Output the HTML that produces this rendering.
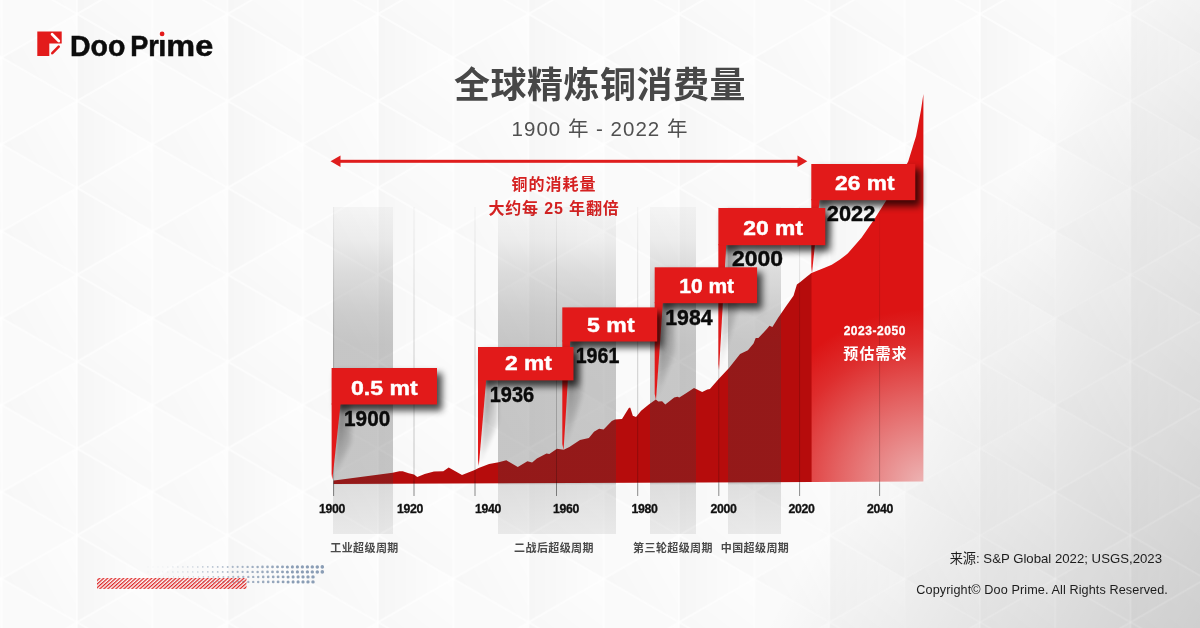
<!DOCTYPE html>
<html lang="zh-CN"><head><meta charset="utf-8"><title>全球精炼铜消费量</title>
<style>
html,body{margin:0;padding:0;background:#fff;}
body{width:1200px;height:628px;overflow:hidden;font-family:"Liberation Sans", "Noto Sans CJK SC", sans-serif;}
svg{display:block;font-family:"Liberation Sans", "Noto Sans CJK SC", sans-serif;opacity:0.999;}
</style></head><body>
<svg width="1200" height="628" viewBox="0 0 1200 628">
<defs>
<linearGradient id="bgD" gradientUnits="userSpaceOnUse" x1="1000" y1="200" x2="1334" y2="383.7">
 <stop offset="0" stop-color="#000" stop-opacity="0"/><stop offset="1" stop-color="#000" stop-opacity="0.175"/>
</linearGradient>
<linearGradient id="band" x1="0" y1="0" x2="0" y2="1">
 <stop offset="0" stop-color="#3c3c3c" stop-opacity="0.035"/><stop offset="0.1" stop-color="#3c3c3c" stop-opacity="0.075"/><stop offset="0.2" stop-color="#3c3c3c" stop-opacity="0.16"/><stop offset="0.327" stop-color="#3c3c3c" stop-opacity="0.24"/><stop offset="0.42" stop-color="#3c3c3c" stop-opacity="0.275"/><stop offset="0.845" stop-color="#3c3c3c" stop-opacity="0.275"/><stop offset="0.85" stop-color="#3c3c3c" stop-opacity="0.15"/><stop offset="1" stop-color="#3c3c3c" stop-opacity="0.09"/>
</linearGradient>
<radialGradient id="fore" gradientUnits="userSpaceOnUse" cx="925" cy="485" r="176">
 <stop offset="0" stop-color="#edb6b6"/><stop offset="0.5" stop-color="#e46262"/><stop offset="0.8" stop-color="#de2d2d"/><stop offset="1" stop-color="#dc1414"/>
</radialGradient>
<linearGradient id="gl" x1="0" y1="0" x2="0" y2="1">
 <stop offset="0" stop-color="#000" stop-opacity="0.04"/><stop offset="0.5" stop-color="#000" stop-opacity="0.17"/><stop offset="0.945" stop-color="#000" stop-opacity="0.22"/><stop offset="0.96" stop-color="#000" stop-opacity="0.45"/><stop offset="1" stop-color="#000" stop-opacity="0.45"/>
</linearGradient>
<linearGradient id="vfadeg" x1="0" y1="0" x2="0" y2="1">
 <stop offset="0" stop-color="#fff"/><stop offset="0.35" stop-color="#fff" stop-opacity="0.75"/><stop offset="0.8" stop-color="#fff" stop-opacity="0.12"/><stop offset="1" stop-color="#fff" stop-opacity="0"/>
</linearGradient>
<mask id="vfade" maskContentUnits="objectBoundingBox" x="-0.5" y="-0.1" width="2" height="1.2"><rect x="-0.5" y="-0.1" width="2" height="1.2" fill="url(#vfadeg)"/></mask>
<linearGradient id="psh" x1="0" y1="0" x2="1" y2="0">
 <stop offset="0" stop-color="#000" stop-opacity="0.6"/><stop offset="1" stop-color="#000" stop-opacity="0.18"/>
</linearGradient>
<filter id="blur2" x="-50%" y="-20%" width="200%" height="140%"><feGaussianBlur stdDeviation="2"/></filter>
<filter id="blur5" x="-20%" y="-50%" width="140%" height="200%"><feGaussianBlur stdDeviation="3.6"/></filter>
<pattern id="hatch" width="2.68" height="2.68" patternUnits="userSpaceOnUse" patternTransform="rotate(-42)">
 <rect width="2.68" height="1.2" fill="#de1f1f"/>
</pattern>
<linearGradient id="tA" gradientUnits="userSpaceOnUse" x1="0" y1="0" x2="75.25" y2="0"><stop offset="0" stop-color="#000" stop-opacity="0.028"/><stop offset="1" stop-color="#000" stop-opacity="0"/></linearGradient>
<linearGradient id="tB" gradientUnits="userSpaceOnUse" x1="75.25" y1="-43.45" x2="25.08" y2="21.73"><stop offset="0" stop-color="#000" stop-opacity="0"/><stop offset="1" stop-color="#000" stop-opacity="0.021"/></linearGradient>
<linearGradient id="tB2" gradientUnits="userSpaceOnUse" x1="75.25" y1="43.45" x2="25.08" y2="108.62"><stop offset="0" stop-color="#000" stop-opacity="0"/><stop offset="1" stop-color="#000" stop-opacity="0.021"/></linearGradient>
<linearGradient id="tC" gradientUnits="userSpaceOnUse" x1="150.5" y1="0" x2="75.25" y2="43.45"><stop offset="0" stop-color="#000" stop-opacity="0"/><stop offset="1" stop-color="#000" stop-opacity="0.024"/></linearGradient>
<pattern id="tri" patternUnits="userSpaceOnUse" x="77" y="14" width="150.5" height="86.9">
 <polygon points="0,0 0,86.9 75.25,43.45" fill="url(#tA)"/>
 <polygon points="0,0 75.25,0 75.25,43.45" fill="url(#tB)"/>
 <polygon points="0,86.9 75.25,43.45 75.25,86.9" fill="url(#tB2)"/>
 <polygon points="75.25,43.45 150.5,0 150.5,86.9" fill="url(#tC)"/>
 <polygon points="75.25,0 150.5,0 75.25,43.45" fill="#000" fill-opacity="0.011"/>
 <polygon points="75.25,43.45 150.5,86.9 75.25,86.9" fill="#000" fill-opacity="0.011"/>
 
</pattern>
<pattern id="triA" patternUnits="userSpaceOnUse" x="77" y="14" width="150.5" height="86.9">
 <g stroke="#fff" stroke-opacity="0.6" stroke-width="2">
  <line x1="0" y1="0" x2="0" y2="86.9"/><line x1="150.5" y1="0" x2="150.5" y2="86.9"/><line x1="75.25" y1="0" x2="75.25" y2="86.9"/>
  <line x1="0" y1="0" x2="150.5" y2="86.9"/><line x1="0" y1="86.9" x2="150.5" y2="0"/>
 </g>
</pattern>
<pattern id="triB" patternUnits="userSpaceOnUse" x="77" y="14" width="150.5" height="86.9">
 <g stroke="#fff" stroke-opacity="0.16" stroke-width="1.8">
  <line x1="0" y1="0" x2="0" y2="86.9"/><line x1="150.5" y1="0" x2="150.5" y2="86.9"/><line x1="75.25" y1="0" x2="75.25" y2="86.9"/>
  <line x1="0" y1="0" x2="150.5" y2="86.9"/><line x1="0" y1="86.9" x2="150.5" y2="0"/>
 </g>
</pattern>
<linearGradient id="mLg" gradientUnits="userSpaceOnUse" x1="940" y1="167" x2="1334" y2="383.7"><stop offset="0" stop-color="#fff"/><stop offset="0.45" stop-color="#000"/></linearGradient>
<linearGradient id="mRg" gradientUnits="userSpaceOnUse" x1="940" y1="167" x2="1334" y2="383.7"><stop offset="0.1" stop-color="#000"/><stop offset="0.55" stop-color="#fff"/></linearGradient>
<mask id="mL" maskUnits="userSpaceOnUse" x="0" y="0" width="1200" height="628"><rect width="1200" height="628" fill="url(#mLg)"/></mask>
<mask id="mR" maskUnits="userSpaceOnUse" x="0" y="0" width="1200" height="628"><rect width="1200" height="628" fill="url(#mRg)"/></mask>

</defs>
<rect width="1200" height="628" fill="#fdfdfd"/>
<rect width="1200" height="628" fill="url(#bgD)"/>
<rect width="1200" height="628" fill="url(#tri)"/>
<rect width="1200" height="628" fill="url(#triA)" mask="url(#mL)"/>
<rect width="1200" height="628" fill="url(#triB)" mask="url(#mR)"/>

<!-- logo -->
<g>
 <path d="M37.3 31.6H61.7V43.6H49.3V55.9H37.3Z" fill="#e31b1b"/>
 <line x1="52.1" y1="34.3" x2="58.8" y2="40.9" stroke="#fff" stroke-width="2.8" stroke-linecap="round"/>
 <line x1="52.3" y1="53.2" x2="58.7" y2="46.6" stroke="#e31b1b" stroke-width="2.6" stroke-linecap="round"/>
 <text id="logotxt" y="55.9" font-size="29" font-weight="700" fill="#0c0c0c" stroke="#0c0c0c" stroke-width="0.5"><tspan x="70" textLength="55.4" lengthAdjust="spacingAndGlyphs">Doo</tspan> <tspan x="130.3" textLength="28.6" lengthAdjust="spacingAndGlyphs">Pr</tspan><tspan x="158.3">i</tspan><tspan x="166.3" textLength="46.9" lengthAdjust="spacingAndGlyphs">me</tspan></text>
 <rect x="158.5" y="31" width="8" height="8.6" fill="#fcfcfc"/>
 <circle cx="162.1" cy="33.9" r="2.4" fill="#e31b1b"/>
</g>

<!-- title -->
<text x="600" y="98" font-size="36" font-weight="700" fill="#474747" text-anchor="middle" letter-spacing="0.5">全球精炼铜消费量</text>
<text x="600" y="136" font-size="20.5" fill="#505050" text-anchor="middle" letter-spacing="1.0">1900 年 - 2022 年</text>

<!-- arrow -->
<g fill="#df1d1d"><rect x="338" y="159.8" width="463" height="3"/>
<polygon points="330.5,161.3 340.5,155.6 340.5,167"/><polygon points="807.3,161.3 797.5,155.6 797.5,167"/></g>
<text x="554" y="190" font-size="16" font-weight="700" fill="#d52121" text-anchor="middle" letter-spacing="1.0">铜的消耗量</text>
<text x="554" y="214" font-size="16" font-weight="700" fill="#d52121" text-anchor="middle" letter-spacing="0.85">大约每 25 年翻倍</text>

<!-- chart red areas -->
<polygon points="810.8,482.0 810.8,273.5 811.5,273.0 824.0,268.0 831.8,264.8 840.0,259.6 847.7,253.6 861.5,237.7 874.8,218.6 885.9,201.1 897.0,182.0 908.2,161.4 916.1,135.9 920.9,110.5 923.4,94.0 923.4,481.6" fill="url(#fore)"/>
<polygon points="333.6,483.9 333.6,480.4 334.0,480.5 392.7,472.7 399.3,471.3 402.7,471.3 408.7,473.3 414.0,474.4 417.3,476.9 424.7,474.0 434.0,471.6 443.3,471.3 448.7,467.6 462.0,475.0 474.7,470.0 478.6,467.9 489.1,464.1 498.7,462.2 506.3,460.3 517.8,467.0 527.4,461.2 532.1,462.6 536.9,458.4 546.5,453.6 549.3,454.0 557.0,448.8 563.7,449.8 569.4,446.9 580.0,440.0 588.9,438.1 594.0,431.8 599.1,428.8 603.6,429.6 611.8,420.9 615.0,419.4 622.0,419.0 629.0,407.8 630.3,407.8 632.8,415.8 636.0,417.1 641.1,410.7 648.8,404.6 655.8,399.5 658.3,401.5 662.1,401.2 665.3,404.6 674.2,397.4 677.4,396.7 679.3,397.6 685.7,393.6 694.0,388.1 702.2,391.9 707.3,389.4 709.9,389.1 718.2,379.6 729.0,368.0 740.1,354.0 747.9,350.2 753.5,343.6 755.7,338.0 758.4,338.0 766.8,329.1 769.5,325.7 772.4,326.9 778.0,318.0 785.7,306.8 793.5,295.7 796.9,284.5 800.0,282.3 807.3,276.3 811.5,273.0 811.6,482.0" fill="#b60c0c"/>

<!-- grey bands -->
<g><rect x="333" y="207" width="60" height="327" fill="url(#band)"/><rect x="498" y="207" width="118" height="327" fill="url(#band)"/><rect x="650" y="207" width="46" height="327" fill="url(#band)"/><rect x="728" y="207" width="53" height="327" fill="url(#band)"/></g>

<!-- grid lines -->
<g fill="url(#gl)"><rect x="333.1" y="207" width="1" height="289"/><rect x="413.5" y="207" width="1" height="289"/><rect x="474.5" y="207" width="1" height="289"/><rect x="556.0" y="207" width="1" height="289"/><rect x="637.2" y="207" width="1" height="289"/><rect x="718.3" y="207" width="1" height="289"/><rect x="799.1" y="207" width="1" height="289"/><rect x="879.1" y="207" width="1" height="289"/></g>

<!-- x labels -->
<g font-size="12.3" font-weight="700" fill="#111" stroke="#111" stroke-width="0.3" text-anchor="middle" letter-spacing="-0.35"><text x="332" y="512.9">1900</text><text x="410" y="512.9">1920</text><text x="488" y="512.9">1940</text><text x="566" y="512.9">1960</text><text x="644.5" y="512.9">1980</text><text x="723.5" y="512.9">2000</text><text x="801.5" y="512.9">2020</text><text x="880" y="512.9">2040</text></g>
<g font-size="11" font-weight="700" fill="#4a4a4a" text-anchor="middle" letter-spacing="0.4"><text x="364.5" y="552.3">工业超级周期</text><text x="554" y="552.3">二战后超级周期</text><text x="673" y="552.3">第三轮超级周期</text><text x="755" y="552.3">中国超级周期</text></g>

<!-- callouts -->
<polygon points="818.7,198.2 831.3,198.2 831.3,236.6 813.0,273.0" fill="url(#psh)" opacity="0.95" filter="url(#blur2)" mask="url(#vfade)"/>
<rect x="816.3" y="169.0" width="104.0" height="37.2" fill="#000" opacity="0.72" filter="url(#blur5)"/>
<text x="826.8" y="220.9" font-size="22.4" font-weight="700" fill="#0a0a0a" stroke="#0a0a0a" stroke-width="0.45" textLength="48.5" lengthAdjust="spacingAndGlyphs">2022</text>
<polygon points="811.3,199.2 819.7,199.2 812.0,273.0 811.3,267.0" fill="#e21a1a"/>
<rect x="811.3" y="164.0" width="104.0" height="36.2" fill="#e21a1a"/>
<text x="835.1" y="189.9" font-size="21" font-weight="700" fill="#fff" stroke="#fff" stroke-width="0.45" textLength="59.4" lengthAdjust="spacingAndGlyphs">26 mt</text>
<polygon points="725.3,243.2 738.4,243.2 738.4,307.6 720.0,370.0" fill="url(#psh)" opacity="0.95" filter="url(#blur2)" mask="url(#vfade)"/>
<rect x="723.4" y="213.0" width="106.9" height="38.2" fill="#000" opacity="0.72" filter="url(#blur5)"/>
<text x="731.9" y="265.7" font-size="22.4" font-weight="700" fill="#0a0a0a" stroke="#0a0a0a" stroke-width="0.45" textLength="51.1" lengthAdjust="spacingAndGlyphs">2000</text>
<polygon points="718.4,244.2 726.3,244.2 719.0,370.0 718.4,364.0" fill="#e21a1a"/>
<rect x="718.4" y="208.0" width="106.9" height="37.2" fill="#e21a1a"/>
<text x="743.3" y="234.6" font-size="21" font-weight="700" fill="#fff" stroke="#fff" stroke-width="0.45" textLength="59.7" lengthAdjust="spacingAndGlyphs">20 mt</text>
<polygon points="661.9,301.2 674.7,301.2 674.7,351.6 657.0,400.0" fill="url(#psh)" opacity="0.95" filter="url(#blur2)" mask="url(#vfade)"/>
<rect x="659.7" y="272.3" width="102.4" height="36.9" fill="#000" opacity="0.72" filter="url(#blur5)"/>
<text x="665.2" y="324.8" font-size="22.4" font-weight="700" fill="#0a0a0a" stroke="#0a0a0a" stroke-width="0.45" textLength="47.4" lengthAdjust="spacingAndGlyphs">1984</text>
<polygon points="654.7,302.2 662.9,302.2 656.0,400.0 654.7,394.0" fill="#e21a1a"/>
<rect x="654.7" y="267.3" width="102.4" height="35.9" fill="#e21a1a"/>
<text x="679.2" y="293.1" font-size="21" font-weight="700" fill="#fff" stroke="#fff" stroke-width="0.45" textLength="54.9" lengthAdjust="spacingAndGlyphs">10 mt</text>
<polygon points="569.3,339.5 582.3,339.5 582.3,395.8 564.6,450.0" fill="url(#psh)" opacity="0.95" filter="url(#blur2)" mask="url(#vfade)"/>
<rect x="567.3" y="312.4" width="94.9" height="35.1" fill="#000" opacity="0.72" filter="url(#blur5)"/>
<text x="575.7" y="362.7" font-size="22.4" font-weight="700" fill="#0a0a0a" stroke="#0a0a0a" stroke-width="0.45" textLength="43.6" lengthAdjust="spacingAndGlyphs">1961</text>
<polygon points="562.3,340.5 570.3,340.5 563.6,450.0 562.3,444.0" fill="#e21a1a"/>
<rect x="562.3" y="307.4" width="94.9" height="34.1" fill="#e21a1a"/>
<text x="587.1" y="331.5" font-size="21" font-weight="700" fill="#fff" stroke="#fff" stroke-width="0.45" textLength="47.5" lengthAdjust="spacingAndGlyphs">5 mt</text>
<polygon points="485.2,378.4 498.0,378.4 498.0,423.2 479.8,466.0" fill="url(#psh)" opacity="0.95" filter="url(#blur2)" mask="url(#vfade)"/>
<rect x="483.0" y="352.0" width="95.5" height="34.4" fill="#000" opacity="0.72" filter="url(#blur5)"/>
<text x="489.7" y="402.1" font-size="22.4" font-weight="700" fill="#0a0a0a" stroke="#0a0a0a" stroke-width="0.45" textLength="44.4" lengthAdjust="spacingAndGlyphs">1936</text>
<polygon points="478.0,379.4 486.2,379.4 478.8,466.0 478.0,460.0" fill="#e21a1a"/>
<rect x="478.0" y="347.0" width="95.5" height="33.4" fill="#e21a1a"/>
<text x="505.0" y="369.7" font-size="21" font-weight="700" fill="#fff" stroke="#fff" stroke-width="0.45" textLength="46.9" lengthAdjust="spacingAndGlyphs">2 mt</text>
<polygon points="339.6,402.5 351.6,402.5 351.6,442.2 333.3,480.0" fill="url(#psh)" opacity="0.95" filter="url(#blur2)" mask="url(#vfade)"/>
<rect x="336.6" y="373.0" width="105.4" height="37.5" fill="#000" opacity="0.72" filter="url(#blur5)"/>
<text x="344.1" y="425.7" font-size="22.4" font-weight="700" fill="#0a0a0a" stroke="#0a0a0a" stroke-width="0.45" textLength="46.1" lengthAdjust="spacingAndGlyphs">1900</text>
<polygon points="331.6,403.5 340.6,403.5 332.3,480.0 331.6,474.0" fill="#e21a1a"/>
<rect x="331.6" y="368.0" width="105.4" height="36.5" fill="#e21a1a"/>
<text x="351.0" y="394.9" font-size="21" font-weight="700" fill="#fff" stroke="#fff" stroke-width="0.45" textLength="66.7" lengthAdjust="spacingAndGlyphs">0.5 mt</text>


<!-- forecast text -->
<text x="874.8" y="334.6" font-size="12" font-weight="700" fill="#fff" stroke="#fff" stroke-width="0.3" text-anchor="middle" letter-spacing="0.55">2023-2050</text>
<text x="875.5" y="359" font-size="15" font-weight="700" fill="#fff" text-anchor="middle" letter-spacing="1.1">预估需求</text>

<!-- decoration -->
<g fill="#8a9db5"><circle cx="322.3" cy="566.9" r="1.80" opacity="1.00"/><circle cx="317.3" cy="566.9" r="1.76" opacity="1.00"/><circle cx="312.3" cy="566.9" r="1.72" opacity="1.00"/><circle cx="307.4" cy="566.9" r="1.68" opacity="1.00"/><circle cx="302.4" cy="566.9" r="1.63" opacity="1.00"/><circle cx="297.4" cy="566.9" r="1.59" opacity="1.00"/><circle cx="292.4" cy="566.9" r="1.55" opacity="1.00"/><circle cx="287.4" cy="566.9" r="1.51" opacity="0.98"/><circle cx="282.5" cy="566.9" r="1.46" opacity="0.95"/><circle cx="277.5" cy="566.9" r="1.42" opacity="0.93"/><circle cx="272.5" cy="566.9" r="1.38" opacity="0.91"/><circle cx="267.5" cy="566.9" r="1.34" opacity="0.88"/><circle cx="262.5" cy="566.9" r="1.29" opacity="0.86"/><circle cx="257.6" cy="566.9" r="1.25" opacity="0.83"/><circle cx="252.6" cy="566.9" r="1.21" opacity="0.81"/><circle cx="247.6" cy="566.9" r="1.17" opacity="0.78"/><circle cx="242.6" cy="566.9" r="1.12" opacity="0.76"/><circle cx="237.6" cy="566.9" r="1.08" opacity="0.73"/><circle cx="232.7" cy="566.9" r="1.04" opacity="0.71"/><circle cx="227.7" cy="566.9" r="1.00" opacity="0.68"/><circle cx="222.7" cy="566.9" r="0.95" opacity="0.66"/><circle cx="217.7" cy="566.9" r="0.91" opacity="0.63"/><circle cx="212.7" cy="566.9" r="0.87" opacity="0.61"/><circle cx="207.8" cy="566.9" r="0.83" opacity="0.59"/><circle cx="202.8" cy="566.9" r="0.78" opacity="0.56"/><circle cx="197.8" cy="566.9" r="0.74" opacity="0.54"/><circle cx="192.8" cy="566.9" r="0.70" opacity="0.51"/><circle cx="187.8" cy="566.9" r="0.66" opacity="0.49"/><circle cx="182.9" cy="566.9" r="0.62" opacity="0.46"/><circle cx="177.9" cy="566.9" r="0.57" opacity="0.44"/><circle cx="172.9" cy="566.9" r="0.53" opacity="0.41"/><circle cx="167.9" cy="566.9" r="0.49" opacity="0.39"/><circle cx="162.9" cy="566.9" r="0.45" opacity="0.36"/><circle cx="158.0" cy="566.9" r="0.40" opacity="0.34"/><circle cx="153.0" cy="566.9" r="0.36" opacity="0.31"/><circle cx="148.0" cy="566.9" r="0.32" opacity="0.29"/><circle cx="322.3" cy="571.9" r="1.80" opacity="1.00"/><circle cx="317.3" cy="571.9" r="1.76" opacity="1.00"/><circle cx="312.3" cy="571.9" r="1.72" opacity="1.00"/><circle cx="307.4" cy="571.9" r="1.68" opacity="1.00"/><circle cx="302.4" cy="571.9" r="1.63" opacity="1.00"/><circle cx="297.4" cy="571.9" r="1.59" opacity="1.00"/><circle cx="292.4" cy="571.9" r="1.55" opacity="1.00"/><circle cx="287.4" cy="571.9" r="1.51" opacity="0.98"/><circle cx="282.5" cy="571.9" r="1.46" opacity="0.95"/><circle cx="277.5" cy="571.9" r="1.42" opacity="0.93"/><circle cx="272.5" cy="571.9" r="1.38" opacity="0.91"/><circle cx="267.5" cy="571.9" r="1.34" opacity="0.88"/><circle cx="262.5" cy="571.9" r="1.29" opacity="0.86"/><circle cx="257.6" cy="571.9" r="1.25" opacity="0.83"/><circle cx="252.6" cy="571.9" r="1.21" opacity="0.81"/><circle cx="247.6" cy="571.9" r="1.17" opacity="0.78"/><circle cx="242.6" cy="571.9" r="1.12" opacity="0.76"/><circle cx="237.6" cy="571.9" r="1.08" opacity="0.73"/><circle cx="232.7" cy="571.9" r="1.04" opacity="0.71"/><circle cx="227.7" cy="571.9" r="1.00" opacity="0.68"/><circle cx="222.7" cy="571.9" r="0.95" opacity="0.66"/><circle cx="217.7" cy="571.9" r="0.91" opacity="0.63"/><circle cx="212.7" cy="571.9" r="0.87" opacity="0.61"/><circle cx="207.8" cy="571.9" r="0.83" opacity="0.59"/><circle cx="202.8" cy="571.9" r="0.78" opacity="0.56"/><circle cx="197.8" cy="571.9" r="0.74" opacity="0.54"/><circle cx="192.8" cy="571.9" r="0.70" opacity="0.51"/><circle cx="187.8" cy="571.9" r="0.66" opacity="0.49"/><circle cx="182.9" cy="571.9" r="0.62" opacity="0.46"/><circle cx="177.9" cy="571.9" r="0.57" opacity="0.44"/><circle cx="172.9" cy="571.9" r="0.53" opacity="0.41"/><circle cx="167.9" cy="571.9" r="0.49" opacity="0.39"/><circle cx="162.9" cy="571.9" r="0.45" opacity="0.36"/><circle cx="158.0" cy="571.9" r="0.40" opacity="0.34"/><circle cx="153.0" cy="571.9" r="0.36" opacity="0.31"/><circle cx="148.0" cy="571.9" r="0.32" opacity="0.29"/><circle cx="313.0" cy="576.9" r="1.72" opacity="1.00"/><circle cx="308.0" cy="576.9" r="1.68" opacity="1.00"/><circle cx="303.0" cy="576.9" r="1.64" opacity="1.00"/><circle cx="298.1" cy="576.9" r="1.60" opacity="1.00"/><circle cx="293.1" cy="576.9" r="1.55" opacity="1.00"/><circle cx="288.1" cy="576.9" r="1.51" opacity="0.98"/><circle cx="283.1" cy="576.9" r="1.47" opacity="0.96"/><circle cx="278.1" cy="576.9" r="1.43" opacity="0.93"/><circle cx="273.2" cy="576.9" r="1.38" opacity="0.91"/><circle cx="268.2" cy="576.9" r="1.34" opacity="0.88"/><circle cx="263.2" cy="576.9" r="1.30" opacity="0.86"/><circle cx="258.2" cy="576.9" r="1.26" opacity="0.83"/><circle cx="253.2" cy="576.9" r="1.21" opacity="0.81"/><circle cx="248.3" cy="576.9" r="1.17" opacity="0.79"/><circle cx="243.3" cy="576.9" r="1.13" opacity="0.76"/><circle cx="238.3" cy="576.9" r="1.09" opacity="0.74"/><circle cx="233.3" cy="576.9" r="1.04" opacity="0.71"/><circle cx="228.3" cy="576.9" r="1.00" opacity="0.69"/><circle cx="223.4" cy="576.9" r="0.96" opacity="0.66"/><circle cx="218.4" cy="576.9" r="0.92" opacity="0.64"/><circle cx="213.4" cy="576.9" r="0.88" opacity="0.61"/><circle cx="208.4" cy="576.9" r="0.83" opacity="0.59"/><circle cx="203.4" cy="576.9" r="0.79" opacity="0.56"/><circle cx="198.5" cy="576.9" r="0.75" opacity="0.54"/><circle cx="193.5" cy="576.9" r="0.71" opacity="0.51"/><circle cx="188.5" cy="576.9" r="0.66" opacity="0.49"/><circle cx="183.5" cy="576.9" r="0.62" opacity="0.47"/><circle cx="178.5" cy="576.9" r="0.58" opacity="0.44"/><circle cx="173.6" cy="576.9" r="0.54" opacity="0.42"/><circle cx="168.6" cy="576.9" r="0.49" opacity="0.39"/><circle cx="163.6" cy="576.9" r="0.45" opacity="0.37"/><circle cx="158.6" cy="576.9" r="0.41" opacity="0.34"/><circle cx="153.6" cy="576.9" r="0.37" opacity="0.32"/><circle cx="148.7" cy="576.9" r="0.32" opacity="0.29"/><circle cx="313.0" cy="581.9" r="1.72" opacity="1.00"/><circle cx="308.0" cy="581.9" r="1.68" opacity="1.00"/><circle cx="303.0" cy="581.9" r="1.64" opacity="1.00"/><circle cx="298.1" cy="581.9" r="1.60" opacity="1.00"/><circle cx="293.1" cy="581.9" r="1.55" opacity="1.00"/><circle cx="288.1" cy="581.9" r="1.51" opacity="0.98"/><circle cx="283.1" cy="581.9" r="1.47" opacity="0.96"/><circle cx="278.1" cy="581.9" r="1.43" opacity="0.93"/><circle cx="273.2" cy="581.9" r="1.38" opacity="0.91"/><circle cx="268.2" cy="581.9" r="1.34" opacity="0.88"/><circle cx="263.2" cy="581.9" r="1.30" opacity="0.86"/><circle cx="258.2" cy="581.9" r="1.26" opacity="0.83"/><circle cx="253.2" cy="581.9" r="1.21" opacity="0.81"/><circle cx="248.3" cy="581.9" r="1.17" opacity="0.79"/><circle cx="243.3" cy="581.9" r="1.13" opacity="0.76"/><circle cx="238.3" cy="581.9" r="1.09" opacity="0.74"/><circle cx="233.3" cy="581.9" r="1.04" opacity="0.71"/><circle cx="228.3" cy="581.9" r="1.00" opacity="0.69"/><circle cx="223.4" cy="581.9" r="0.96" opacity="0.66"/><circle cx="218.4" cy="581.9" r="0.92" opacity="0.64"/><circle cx="213.4" cy="581.9" r="0.88" opacity="0.61"/><circle cx="208.4" cy="581.9" r="0.83" opacity="0.59"/><circle cx="203.4" cy="581.9" r="0.79" opacity="0.56"/><circle cx="198.5" cy="581.9" r="0.75" opacity="0.54"/><circle cx="193.5" cy="581.9" r="0.71" opacity="0.51"/><circle cx="188.5" cy="581.9" r="0.66" opacity="0.49"/><circle cx="183.5" cy="581.9" r="0.62" opacity="0.47"/><circle cx="178.5" cy="581.9" r="0.58" opacity="0.44"/><circle cx="173.6" cy="581.9" r="0.54" opacity="0.42"/><circle cx="168.6" cy="581.9" r="0.49" opacity="0.39"/><circle cx="163.6" cy="581.9" r="0.45" opacity="0.37"/><circle cx="158.6" cy="581.9" r="0.41" opacity="0.34"/><circle cx="153.6" cy="581.9" r="0.37" opacity="0.32"/><circle cx="148.7" cy="581.9" r="0.32" opacity="0.29"/></g>
<rect x="97" y="578" width="149.5" height="11" fill="url(#hatch)"/>

<!-- footer -->
<text x="1162" y="563.3" font-size="13.2" fill="#1c1c1c" text-anchor="end">来源: S&amp;P Global 2022; USGS,2023</text>
<text x="1168" y="593.6" font-size="12.65" fill="#1c1c1c" text-anchor="end" letter-spacing="0.1">Copyright© Doo Prime. All Rights Reserved.</text>
</svg>
</body></html>
